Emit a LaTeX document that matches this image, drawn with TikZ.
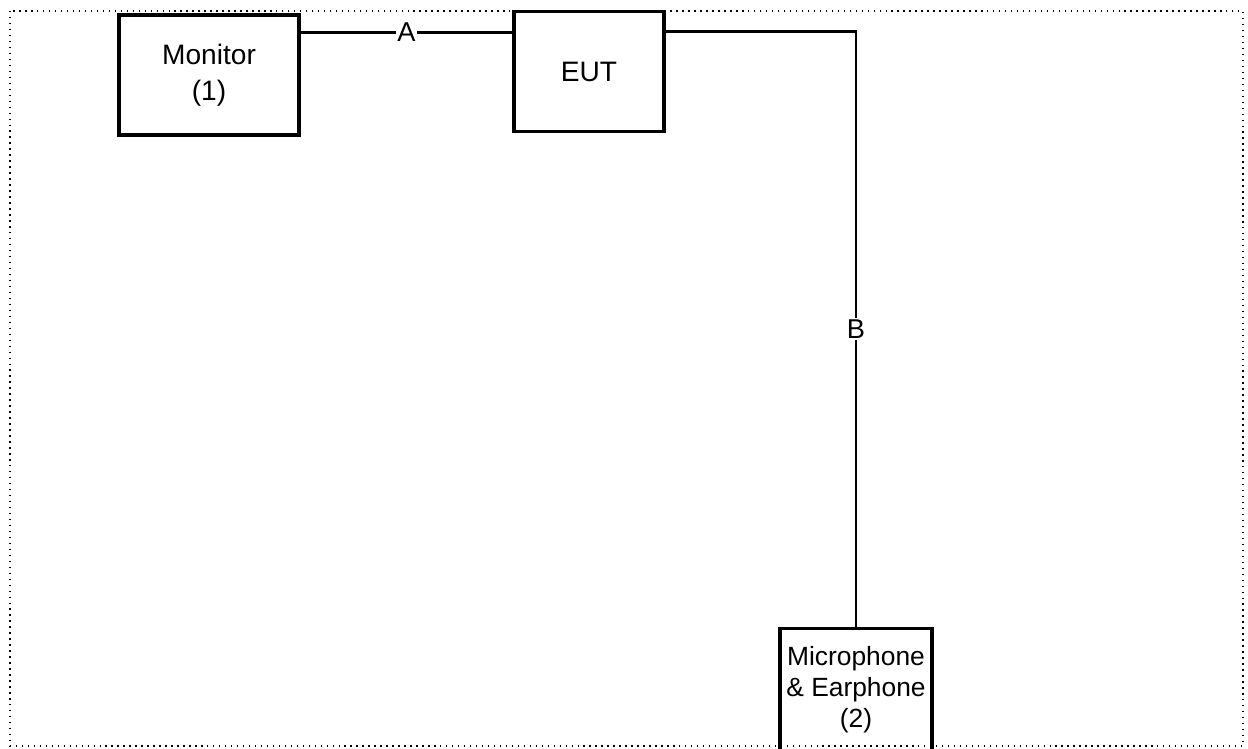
\documentclass[tikz,border=0pt]{standalone}
\usepackage{fontspec}
\setmainfont{Liberation Sans}
\usetikzlibrary{positioning}
\begin{document}
\begin{tikzpicture}[
        unit/.style={draw,line width=2pt,minimum width=#1,minimum height=2.4cm,align=center,font=\fontsize{16}{20.5}\selectfont},
        cable/.style={line width=1.5pt},
        lbl/.style={fill=white,inner sep=1pt,font=\fontsize{15.5}{18}\selectfont}
    ]
    \useasboundingbox (0,0) rectangle (24.96,-14.98);
    \draw[line width=0.9pt,dash pattern=on 0.8pt off 2.6pt] (0.2,-0.22) rectangle (24.86,-14.92);
    \node[unit=3.6cm] (mon) at (4.18,-1.5) {Monitor\\(1)};
    \node[unit=3cm] (eut) at (11.78,-1.43) {EUT};
    \node[unit=3.04cm,minimum height=2.46cm,font=\fontsize{15}{17.6}\selectfont] (mic) at (17.12,-13.8) {Microphone\\\& Earphone\\(2)};
    \draw[cable] ([yshift=-0.38cm]mon.north east) -- node[lbl] {A} ([yshift=-0.38cm]mon.north east -| eut.west);
    \draw[cable] ([yshift=-0.44cm]eut.north east) -| node[lbl,pos=0.75] {B} (mic.north);
\end{tikzpicture}
\end{document}
